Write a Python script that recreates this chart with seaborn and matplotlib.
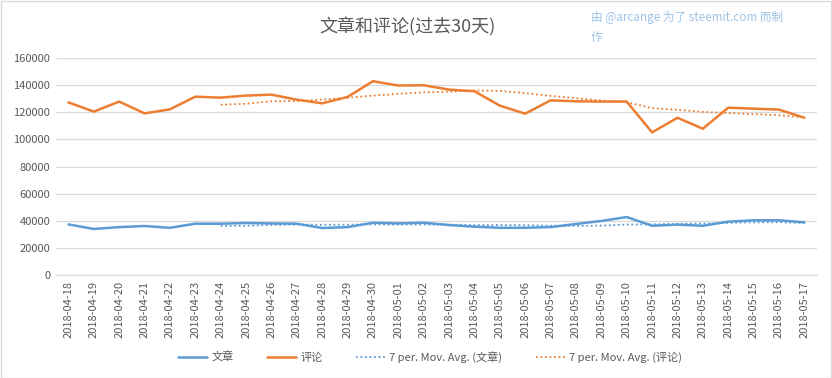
import matplotlib
matplotlib.use("Agg")
import matplotlib.pyplot as plt
import pandas as pd
import seaborn as sns

dates = ["2018-04-18", "2018-04-19", "2018-04-20", "2018-04-21", "2018-04-22", "2018-04-23",
         "2018-04-24", "2018-04-25", "2018-04-26", "2018-04-27", "2018-04-28", "2018-04-29",
         "2018-04-30", "2018-05-01", "2018-05-02", "2018-05-03", "2018-05-04", "2018-05-05",
         "2018-05-06", "2018-05-07", "2018-05-08", "2018-05-09", "2018-05-10", "2018-05-11",
         "2018-05-12", "2018-05-13", "2018-05-14", "2018-05-15", "2018-05-16", "2018-05-17"]

posts = [37400, 34000, 35400, 36200, 34900, 37900, 37900, 38400, 38100, 37900,
         34700, 35400, 38600, 38100, 38600, 36900, 35700, 34900, 34900, 35400,
         37700, 39900, 42800, 36400, 37200, 36400, 39400, 40400, 40400, 38900]

comments = [127200, 120400, 127800, 119100, 122100, 131400, 130700, 132200, 132900, 129200,
            126500, 131200, 142800, 139600, 139800, 136600, 135400, 124800, 118900, 128700,
            128000, 127800, 127800, 105100, 115900, 107800, 123300, 122600, 121900, 115900]

# 7-period moving averages, starting at 2018-04-24
posts_ma = [36200, 36400, 37000, 37300, 37100, 37200, 37300, 37300, 37300, 37200, 36900, 36900,
            36800, 36400, 36300, 36500, 37300, 37400, 37800, 38000, 38500, 38900, 39000, 38400]
comments_ma = [125500, 126200, 128000, 128200, 129300, 130600, 132200, 133500, 134600, 135100,
               136000, 135700, 134000, 132000, 130300, 128600, 127300, 123000, 121700, 120200,
               119400, 118600, 117800, 116100]

BLUE = "#5b9bd5"
ORANGE = "#ed7d31"
GREY = "#595959"

sns.set_style("white")
plt.rcParams["font.family"] = ["Noto Sans CJK SC", "DejaVu Sans"]

x = list(range(len(dates)))
ma_x = x[6:]
df = pd.DataFrame({"x": x, "文章": posts, "评论": comments})
ma_df = pd.DataFrame({"x": ma_x, "7 per. Mov. Avg. (文章)": posts_ma,
                      "7 per. Mov. Avg. (评论)": comments_ma})

fig = plt.figure(figsize=(8.32, 3.78), dpi=100)
ax = fig.add_axes([0.067, 0.272, 0.915, 0.575])

sns.lineplot(data=df, x="x", y="文章", color=BLUE, lw=1.8, ax=ax, label="文章")
sns.lineplot(data=df, x="x", y="评论", color=ORANGE, lw=1.8, ax=ax, label="评论")
sns.lineplot(data=ma_df, x="x", y="7 per. Mov. Avg. (文章)", color=BLUE, lw=1.3,
             linestyle=(0, (1, 1.5)), ax=ax, label="7 per. Mov. Avg. (文章)")
sns.lineplot(data=ma_df, x="x", y="7 per. Mov. Avg. (评论)", color=ORANGE, lw=1.3,
             linestyle=(0, (1, 1.5)), ax=ax, label="7 per. Mov. Avg. (评论)")

ax.set_xlim(-0.5, len(dates) - 0.5)
ax.set_ylim(0, 160000)
ax.set_yticks(range(0, 160001, 20000))
ax.set_yticklabels([str(v) for v in range(0, 160001, 20000)])
ax.set_xticks(x)
ax.set_xticklabels(dates, rotation=90)
ax.tick_params(axis="both", labelsize=8, colors=GREY, length=0, pad=4)
ax.grid(axis="y", color="#d9d9d9", lw=0.9)
for s in ["top", "right", "left"]:
    ax.spines[s].set_visible(False)
ax.spines["bottom"].set_color("#d9d9d9")
ax.set_xlabel("")
ax.set_ylabel("")

handles, labels = ax.get_legend_handles_labels()
ax.get_legend().remove()
fig.legend(handles, labels, loc="center", bbox_to_anchor=(0.517, 0.056), ncol=4,
           frameon=False, fontsize=8, labelcolor=GREY, handlelength=2.6,
           handletextpad=0.4, columnspacing=3.0)

fig.text(0.49, 0.928, "文章和评论(过去30天)", ha="center", va="center", fontsize=13, color=GREY)
fig.text(0.71, 0.955, "由 @arcange 为了 steemit.com 而制", ha="left", va="center",
         fontsize=8.4, color="#9dc3e6")
fig.text(0.71, 0.9, "作", ha="left", va="center", fontsize=8.4, color="#9dc3e6")

fig.patches.append(plt.Rectangle((0.001, 0.001), 0.998, 0.997, transform=fig.transFigure,
                                 fill=False, edgecolor="#d9d9d9", lw=1))

fig.savefig("out.png", dpi=100)
